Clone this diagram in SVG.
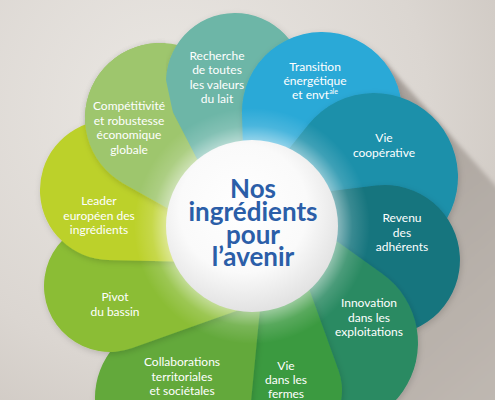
<svg xmlns="http://www.w3.org/2000/svg" width="495" height="400" viewBox="0 0 495 400">
<defs>
<style>
.lbl{font-family:Lato,"Open Sans","DejaVu Sans",sans-serif;font-size:12px;fill:#ffffff;text-anchor:middle}
.title{font-family:Lato,"Open Sans","DejaVu Sans",sans-serif;font-size:26px;font-weight:700;fill:#2b5ea8;text-anchor:middle}
.petal{filter:url(#ds)}
</style>
<radialGradient id="bg" cx="170" cy="110" r="430" gradientUnits="userSpaceOnUse">
<stop offset="0" stop-color="#ebe8e4"/><stop offset="0.6" stop-color="#dbd6d1"/><stop offset="1" stop-color="#c8c1ba"/>
</radialGradient>
<linearGradient id="shadowGrad" gradientUnits="userSpaceOnUse" x1="330" y1="150" x2="560" y2="420">
<stop offset="0" stop-color="#aaa39d"/><stop offset="1" stop-color="#c3bcb5"/>
</linearGradient>
<radialGradient id="glow" cx="252" cy="226" r="118" gradientUnits="userSpaceOnUse">
<stop offset="0.7" stop-color="#ffffff" stop-opacity="0.55"/><stop offset="0.85" stop-color="#ffffff" stop-opacity="0.15"/><stop offset="1" stop-color="#ffffff" stop-opacity="0"/>
</radialGradient>
<radialGradient id="disc" cx="0.45" cy="0.4" r="0.62">
<stop offset="0" stop-color="#ffffff"/><stop offset="0.6" stop-color="#fafafa"/><stop offset="1" stop-color="#e0e0e0"/>
</radialGradient>
<filter id="ds" x="-30%" y="-30%" width="160%" height="160%">
<feDropShadow dx="1" dy="2" stdDeviation="3" flood-color="#000000" flood-opacity="0.16"/>
</filter>
<filter id="blur" x="-10%" y="-10%" width="120%" height="120%"><feGaussianBlur stdDeviation="2"/></filter>
<clipPath id="compClip"><polygon points="0,0 165,0 166,80 173,113 200,165 252,226 0,400"/></clipPath>
<path id="compShape" d="M185,218 L123.3,183.4 A75,75 0 1 1 223.1,158.5 Z" fill="#9ec66d"/>
</defs>

<rect x="0" y="0" width="495" height="400" fill="url(#bg)"/>
<polygon points="381,58 800,525 500,800 119,420 252,226" fill="url(#shadowGrad)" filter="url(#blur)"/>

<use href="#compShape" class="petal"/>

<g id="recherche">
<path class="petal" d="M200,165 L173.6,113.4 A69,69 0 1 1 255.3,147.9 Z" fill="#6db6a7"/>
<text class="lbl" x="217" y="60">Recherche</text>
<text class="lbl" x="217" y="74.3">de toutes</text>
<text class="lbl" x="217" y="88.6">les valeurs</text>
<text class="lbl" x="217" y="102.9">du lait</text>
</g>

<g id="transition">
<path class="petal" d="M243,150 L242,114.1 A80,80 0 1 1 270.5,173.2 Z" fill="#2aa9d7"/>
<text class="lbl" x="315" y="70.5">Transition</text>
<text class="lbl" x="315" y="84.8">énergétique</text>
<text class="lbl" x="315" y="99.1">et envt<tspan font-size="7" dy="-5">ale</tspan></text>
</g>

<g id="vie-cooperative">
<path class="petal" d="M280,160 L308.4,124.5 A84,84 0 1 1 294.2,203.1 Z" fill="#1f90aa"/>
<text class="lbl" x="384" y="142">Vie</text>
<text class="lbl" x="384" y="156.5">coopérative</text>
</g>

<g id="revenu">
<path class="petal" d="M315,193 L375.9,185.6 A75,75 0 1 1 310.2,254.2 Z" fill="#18747e"/>
<text class="lbl" x="402" y="222">Revenu</text>
<text class="lbl" x="402" y="236.5">des</text>
<text class="lbl" x="402" y="251">adhérents</text>
</g>

<g id="innovation">
<path class="petal" d="M310,222 L382.6,274 A85,85 0 1 1 261.5,297 Z" fill="#2a8a62"/>
<text class="lbl" x="369" y="307">Innovation</text>
<text class="lbl" x="369" y="321.5">dans les</text>
<text class="lbl" x="369" y="336">exploitations</text>
</g>

<g id="vie-fermes">
<path class="petal" d="M290,236 L338.6,370.7 A57,57 0 1 1 232.8,367.2 Z" fill="#3b9a40"/>
<text class="lbl" x="286" y="370">Vie</text>
<text class="lbl" x="286" y="384">dans les</text>
<text class="lbl" x="286" y="398">fermes</text>
</g>

<g id="collaborations">
<path class="petal" d="M262,288 L250.6,405.5 A78,78 0 1 1 149.5,323.6 Z" fill="#63a93b"/>
<text class="lbl" x="182" y="366">Collaborations</text>
<text class="lbl" x="182" y="380.5">territoriales</text>
<text class="lbl" x="182" y="395">et sociétales</text>
</g>

<g id="pivot">
<path class="petal" d="M250,306 L132.2,348.1 A66,66 0 1 1 148.7,232.5 Z" fill="#8bbd35"/>
<text class="lbl" x="115" y="301">Pivot</text>
<text class="lbl" x="115" y="315.5">du bassin</text>
</g>

<g id="leader">
<path class="petal" d="M200,262 L108.4,260 A70,70 0 1 1 177.9,173.2 Z" fill="#bcd12c"/>
<text class="lbl" x="99" y="205">Leader</text>
<text class="lbl" x="99" y="219.5">européen des</text>
<text class="lbl" x="99" y="234">ingrédients</text>
</g>

<g id="competitivite">
<g clip-path="url(#compClip)"><use href="#compShape" class="petal"/></g>
<text class="lbl" x="129" y="110">Compétitivité</text>
<text class="lbl" x="129" y="124.5">et robustesse</text>
<text class="lbl" x="129" y="139">économique</text>
<text class="lbl" x="129" y="153.5">globale</text>
</g>

<circle cx="252" cy="226" r="118" fill="url(#glow)"/>

<g id="centre">
<circle cx="252" cy="226" r="86" fill="url(#disc)"/>
<text class="title" x="253" y="198">Nos</text>
<text class="title" x="253" y="221">ingrédients</text>
<text class="title" x="253" y="244">pour</text>
<text class="title" x="253" y="266">l’avenir</text>
</g>
</svg>
